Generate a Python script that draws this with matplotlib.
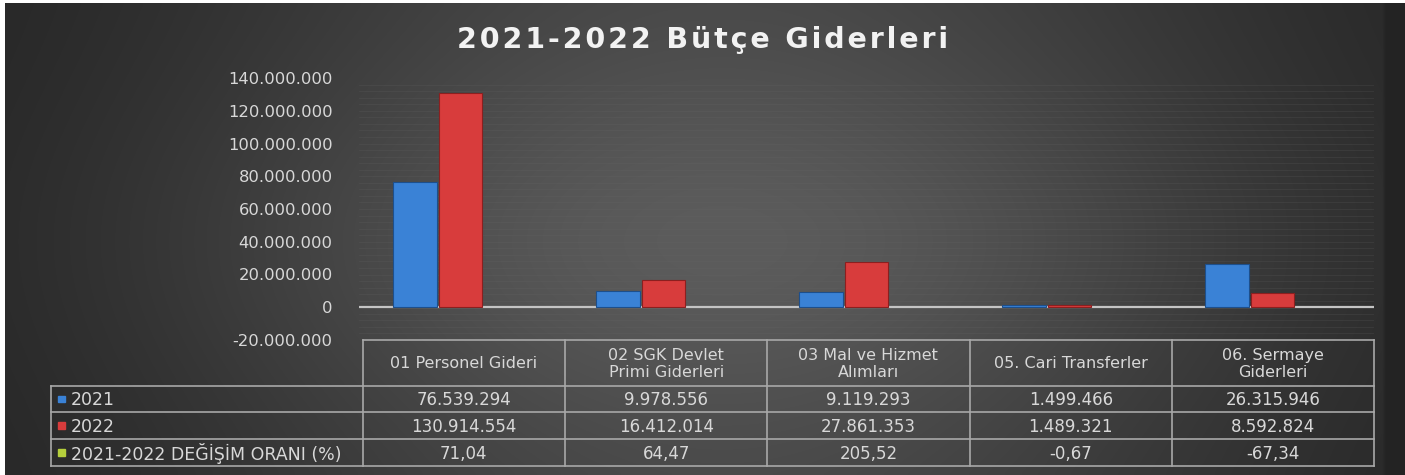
import matplotlib
matplotlib.use("Agg")
import matplotlib.pyplot as plt
import numpy as np

# --- data -----------------------------------------------------------------
categories = ["01 Personel Gideri", "02 SGK Devlet\nPrimi Giderleri",
              "03 Mal ve Hizmet\nAlımları", "05. Cari Transferler",
              "06. Sermaye\nGiderleri"]
values_2021 = [76539294, 9978556, 9119293, 1499466, 26315946]
values_2022 = [130914554, 16412014, 27861353, 1489321, 8592824]
change_pct = [71.04, 64.47, 205.52, -0.67, -67.34]
series_names = ["2021", "2022", "2021-2022 DEĞİŞİM ORANI (%)"]
yticks = [-20000000, 0, 20000000, 40000000, 60000000, 80000000,
          100000000, 120000000, 140000000]

W, H = 1405, 475
C_BLUE, C_RED, C_GREEN = "#3a82d6", "#d83c3c", "#b5cf3c"
TXT = "#d8d8d8"
LINE = "#a8a8a8"
FONT = "DejaVu Sans"


def tr_int(v):
    return f"{v:,}".replace(",", ".")


def tr_pct(v):
    return f"{v:.2f}".replace(".", ",")


fig = plt.figure(figsize=(W / 100, H / 100), dpi=100, facecolor="white")

# background with a soft radial-ish gradient, in pixel coordinates
bg = fig.add_axes([5 / W, 0, 1 - 5 / W, 1 - 3 / H])
bg.set_xlim(0, W)
bg.set_ylim(H, 0)
bg.axis("off")
xx, yy = np.meshgrid(np.linspace(0, W, 400), np.linspace(0, H, 140))
gx = np.exp(-((xx - 720) / 560) ** 2)
gy = 0.62 + 0.38 * np.exp(-((yy - 240) / 190) ** 2)
lum = 0.13 + 0.23 * gx * gy
lum[:, xx[0] > 1385] = 0.14
bg.imshow(np.dstack([lum, lum, lum]), extent=(0, W, H, 0), aspect="auto",
          interpolation="bilinear")

# title (spaced out a little like the original)
title = "2021-2022 Bütçe Giderleri"
fig.text(703 / W, 1 - 40 / H, "\u200a".join(title), color="#f2f2f2",
         fontsize=20.5, fontweight="bold", family="DejaVu Sans",
         ha="center", va="center")

# --- bar chart ------------------------------------------------------------
x0, x1 = 359, 1374
ybot, ytop = 340, 78
ax = fig.add_axes([x0 / W, 1 - ybot / H, (x1 - x0) / W, (ybot - ytop) / H])
ax.patch.set_alpha(0)
n = len(categories)
ax.set_xlim(-0.5, n - 0.5)
ax.set_ylim(yticks[0], yticks[-1])
pos = np.arange(n)
bw = 0.215
ax.bar(pos - 0.225, values_2021, width=bw, color=C_BLUE,
       edgecolor="#1d4f8c", linewidth=0.8, zorder=3)
ax.bar(pos + 0.0, values_2022, width=bw, color=C_RED,
       edgecolor="#8c1f1f", linewidth=0.8, zorder=3)
ax.axhline(0, color="#c4c4c4", lw=1.6, zorder=2)
for yv in np.arange(yticks[0], yticks[-1], 4000000):
    ax.axhline(yv, color="#6a6a6a", lw=0.5, alpha=0.25, zorder=1)
ax.set_yticks(yticks)
ax.set_yticklabels([tr_int(v) for v in yticks], color=TXT, fontsize=11.8,
                   family=FONT)
ax.tick_params(axis="y", length=0, pad=19)
ax.set_xticks([])
for s in ax.spines.values():
    s.set_visible(False)

# --- data table -----------------------------------------------------------
col_edges = np.linspace(x0, x1, n + 1)
row_edges = [339, 385, 412, 439, 466]
lab_left = 46

bg.plot([x0, x1], [row_edges[0], row_edges[0]], color=LINE, lw=1.2)
for yv in row_edges[1:]:
    bg.plot([lab_left, x1], [yv, yv], color=LINE, lw=1.2)
for xv in col_edges:
    bg.plot([xv, xv], [row_edges[0], row_edges[-1]], color=LINE, lw=1.2)
bg.plot([lab_left, lab_left], [row_edges[1], row_edges[-1]], color=LINE, lw=1.2)

for i, cat in enumerate(categories):
    cx = (col_edges[i] + col_edges[i + 1]) / 2
    bg.text(cx, (row_edges[0] + row_edges[1]) / 2 + 1, cat, color=TXT,
            fontsize=11.5, family=FONT, ha="center", va="center",
            linespacing=1.15)
    rows = [tr_int(values_2021[i]), tr_int(values_2022[i]),
            tr_pct(change_pct[i])]
    for r, txt in enumerate(rows):
        bg.text(cx, (row_edges[r + 1] + row_edges[r + 2]) / 2 + 1, txt,
                color=TXT, fontsize=12, family=FONT, ha="center",
                va="center")

for r, (name, col) in enumerate(zip(series_names, [C_BLUE, C_RED, C_GREEN])):
    yc = (row_edges[r + 1] + row_edges[r + 2]) / 2
    bg.add_patch(plt.Rectangle((53, yc - 3.5), 7, 7, color=col, zorder=3))
    bg.text(66, yc + 1, name, color=TXT, fontsize=12.5, family=FONT,
            ha="left", va="center")

fig.savefig("out.png", dpi=100, facecolor="white")
